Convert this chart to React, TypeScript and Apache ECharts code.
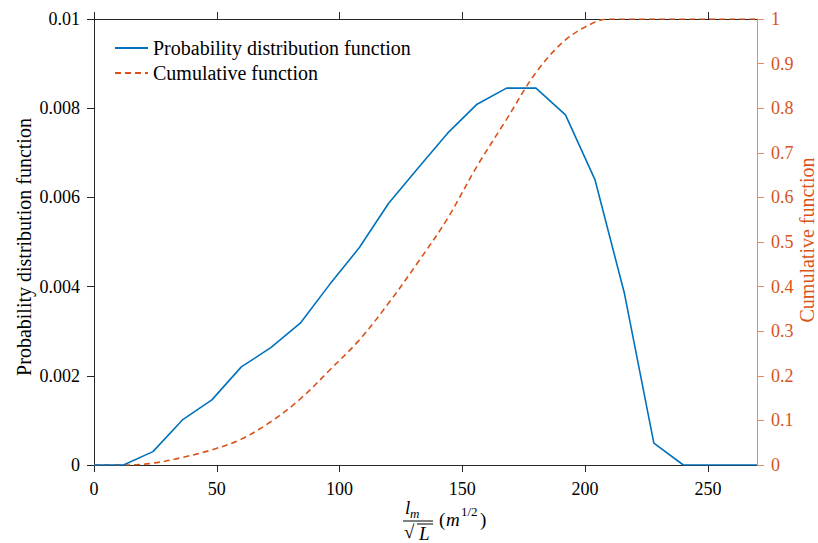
import React, { useEffect, useRef } from "react";
import * as echarts from "echarts";

const pdfX = [0, 12, 24, 36, 48, 60, 72, 84, 96, 108, 120, 132, 144, 156, 168, 180, 192, 204, 216, 228, 240, 270];
const pdfY = [0, 0, 0.0003, 0.00101, 0.00146, 0.0022, 0.00263, 0.00318, 0.00405, 0.00487, 0.00587, 0.00666, 0.00744, 0.00809, 0.00845, 0.00845, 0.00785, 0.0064, 0.00385, 0.00049, 0, 0];

const cdfX = [0, 12, 24, 36, 48, 60, 72, 84, 96, 108, 120, 132, 144, 156, 168, 180, 192, 204, 210, 270];
const cdfY = [0, 0, 0.004, 0.017, 0.034, 0.058, 0.097, 0.148, 0.213, 0.28, 0.363, 0.455, 0.553, 0.67, 0.775, 0.88, 0.953, 0.993, 1, 1];

const xTicks = [0, 50, 100, 150, 200, 250];

const BLUE = "#0072BD";
const ORANGE = "#D95319";
const AXIS = "#262626";
const FONT = "'Liberation Serif', serif";
const FS = 18;
const FW = 20;

export default function App() {
  const ref = useRef<HTMLDivElement>(null);
  useEffect(() => {
    if (!ref.current) return;
    const chart = echarts.init(ref.current, null, { renderer: "svg" });
    const pdfData = pdfX.map((x, i) => [x, pdfY[i]]);
    const cdfData = cdfX.map((x, i) => [x, cdfY[i]]);
    chart.setOption({
      animation: false,
      backgroundColor: "#ffffff",
      textStyle: { fontFamily: FONT },
      grid: { left: 94, right: 61, top: 19, bottom: 78, containLabel: false, outerBoundsMode: "none" },
      legend: {
        orient: "vertical",
        left: 109,
        top: 33,
        itemWidth: 33,
        itemHeight: 14,
        itemGap: 5,
        itemStyle: { opacity: 0 },
        textStyle: { fontFamily: FONT, fontSize: FW, color: "#000" },
        data: ["Probability distribution function", "Cumulative function"],
      },
      xAxis: [
        {
          type: "value",
          min: 0,
          max: 270,
          interval: 50,
          position: "bottom",
          axisLine: { show: true, onZero: false, lineStyle: { color: AXIS, width: 1 } },
          axisTick: { show: true, length: 7, inside: false, customValues: xTicks, lineStyle: { color: AXIS } },
          minorTick: { show: false },
          axisLabel: { color: "#000", fontSize: FS, fontFamily: FONT, margin: 15, customValues: xTicks },
          splitLine: { show: false },
          minorSplitLine: { show: false },
        },
        {
          type: "value",
          min: 0,
          max: 270,
          interval: 50,
          position: "top",
          axisLine: { show: true, onZero: false, lineStyle: { color: AXIS, width: 1 } },
          axisTick: { show: true, length: 7, inside: false, customValues: xTicks, lineStyle: { color: AXIS } },
          minorTick: { show: false },
          axisLabel: { show: false },
          splitLine: { show: false },
          minorSplitLine: { show: false },
        },
      ],
      yAxis: [
        {
          type: "value",
          min: 0,
          max: 0.01,
          interval: 0.002,
          position: "left",
          axisLine: { show: true, onZero: false, lineStyle: { color: AXIS, width: 1 } },
          axisTick: { show: true, length: 7, inside: false, lineStyle: { color: AXIS } },
          minorTick: { show: false },
          axisLabel: { color: "#000", fontSize: FS, fontFamily: FONT, margin: 14 },
          splitLine: { show: false },
          minorSplitLine: { show: false },
        },
        {
          type: "value",
          min: 0,
          max: 1,
          interval: 0.1,
          position: "right",
          axisLine: { show: true, onZero: false, lineStyle: { color: "#E38A62", width: 1 } },
          axisTick: { show: true, length: 7, inside: false, lineStyle: { color: "#E38A62" } },
          minorTick: { show: false },
          axisLabel: { color: ORANGE, fontSize: FS, fontFamily: FONT, margin: 14 },
          splitLine: { show: false },
          minorSplitLine: { show: false },
        },
      ],
      series: [
        {
          name: "Probability distribution function",
          type: "line",
          xAxisIndex: 0,
          yAxisIndex: 0,
          data: pdfData,
          symbol: "none",
          lineStyle: { color: BLUE, width: 1.6 },
          itemStyle: { color: BLUE },
          z: 3,
        },
        {
          name: "Cumulative function",
          type: "line",
          xAxisIndex: 0,
          yAxisIndex: 1,
          data: cdfData,
          symbol: "none",
          smooth: 0.35,
          lineStyle: { color: ORANGE, width: 1.6, type: [6, 4] },
          itemStyle: { color: ORANGE },
          z: 2,
        },
      ],
      graphic: [
        {
          type: "text",
          x: 24,
          y: 247,
          rotation: Math.PI / 2,
          style: { text: "Probability distribution function", font: `${FW}px ${FONT}`, fill: "#000", align: "center", verticalAlign: "middle" },
        },
        {
          type: "text",
          x: 807,
          y: 240,
          rotation: Math.PI / 2,
          style: { text: "Cumulative function", font: `${FW}px ${FONT}`, fill: ORANGE, align: "center", verticalAlign: "middle" },
        },
        { type: "text", left: 405, top: 498, style: { text: "l", font: `italic 19px ${FONT}`, fill: "#000" } },
        { type: "text", left: 410, top: 507, style: { text: "m", font: `italic 13px ${FONT}`, fill: "#000" } },
        { type: "line", shape: { x1: 403, y1: 521, x2: 433, y2: 521 }, style: { stroke: "#000", lineWidth: 1 } },
        { type: "text", left: 404, top: 522, style: { text: "√", font: `19px ${FONT}`, fill: "#000" } },
        { type: "line", shape: { x1: 417, y1: 524, x2: 433, y2: 524 }, style: { stroke: "#000", lineWidth: 1 } },
        { type: "text", left: 419, top: 524, style: { text: "L", font: `italic 19px ${FONT}`, fill: "#000" } },
        { type: "text", left: 439, top: 510, style: { text: "(", font: `19px ${FONT}`, fill: "#000" } },
        { type: "text", left: 446, top: 510, style: { text: "m", font: `italic 19px ${FONT}`, fill: "#000" } },
        { type: "text", left: 461, top: 505, style: { text: "1/2", font: `13px ${FONT}`, fill: "#000" } },
        { type: "text", left: 480, top: 510, style: { text: ")", font: `19px ${FONT}`, fill: "#000" } },
      ],
    });
    return () => chart.dispose();
  }, []);
  return (
    <div
      ref={ref}
      style={{ position: "fixed", left: 0, top: 0, width: 818, height: 543, background: "#fff" }}
    />
  );
}
